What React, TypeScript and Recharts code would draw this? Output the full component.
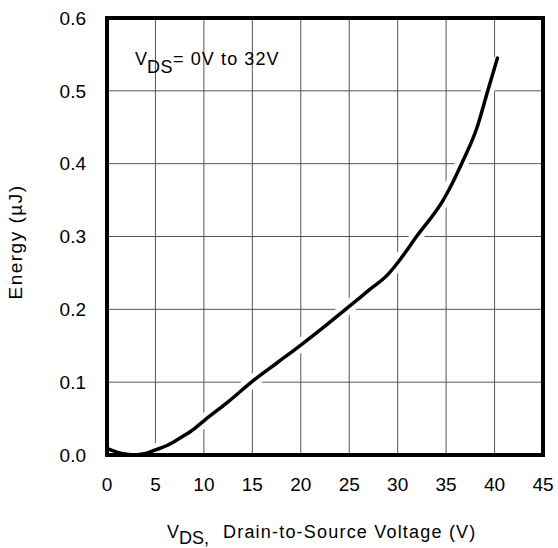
import { LineChart, Line, XAxis, YAxis, CartesianGrid, ReferenceArea } from 'recharts'

// drain-source voltage (V) vs energy (uJ)
const vds = [0, 1, 2, 2.7, 4, 5, 6, 7, 8, 9, 10, 12.5, 15, 17.5, 20, 22.5, 25, 27, 29, 30, 32, 34.7, 35, 36.6, 38.2, 39.3, 40.3]
const energy = [0.009, 0.004, 0.001, 0, 0.002, 0.007, 0.012, 0.019, 0.027, 0.036, 0.047, 0.073, 0.101, 0.126, 0.151, 0.177, 0.204, 0.226, 0.248, 0.264, 0.301, 0.35, 0.357, 0.4, 0.45, 0.5, 0.545]

const xTicks = [0, 5, 10, 15, 20, 25, 30, 35, 40, 45]
const yTicks = [0, 0.1, 0.2, 0.3, 0.4, 0.5, 0.6]

const FONT = 'Liberation Sans, Arial, Helvetica, sans-serif'

export default function App() {
  // "gap" is the same curve, drawn wide and white underneath to break the grid around it
  const data = vds.map((v, i) => ({ v, e: energy[i], gap: energy[i] }))

  return (
    <div style={{ position: 'absolute', left: 0, top: 0, width: 558, height: 548 }}>
      <LineChart width={558} height={548} data={data} margin={{ top: 18, right: 15, left: 0, bottom: 0 }}>
        <CartesianGrid stroke="#555" strokeWidth={1} />
        <XAxis
          dataKey="v"
          type="number"
          domain={[0, 45]}
          ticks={xTicks}
          height={93}
          stroke="#000"
          strokeWidth={4}
          tickLine={false}
          tickSize={6}
          tickMargin={17}
          tick={{ fill: '#000', fontSize: 19, fontFamily: FONT, stroke: 'none' }}
        />
        <YAxis
          type="number"
          domain={[0, 0.6]}
          ticks={yTicks}
          width={107}
          stroke="#000"
          strokeWidth={4}
          tickLine={false}
          tickSize={6}
          tickMargin={15}
          tickFormatter={(t: number) => t.toFixed(1)}
          tick={{ fill: '#000', fontSize: 19, fontFamily: FONT, stroke: 'none' }}
        />
        <ReferenceArea x1={0} x2={45} y1={0} y2={0.6} fill="none" stroke="#000" strokeWidth={4} />
        <Line dataKey="gap" type="monotone" stroke="#fff" strokeWidth={13} dot={false} activeDot={false} isAnimationActive={false} />
        <Line dataKey="e" type="monotone" stroke="#000" strokeWidth={3.5} dot={false} strokeLinecap="round" isAnimationActive={false} />
      </LineChart>

      <svg width={558} height={548} style={{ position: 'absolute', left: 0, top: 0, pointerEvents: 'none' }}>
        <text x={135} y={65} fontSize={18} fill="#000" fontFamily={FONT}>
          V<tspan dy={8} letterSpacing={0.5}>DS</tspan>
          <tspan dy={-8} letterSpacing={1.1}>= 0V to 32V</tspan>
        </text>
        <text x={22} y={242} fontSize={19} fill="#000" fontFamily={FONT} textAnchor="middle" letterSpacing={1.5} transform="rotate(-90 22 242)">
          Energy (µJ)
        </text>
        <text x={167} y={538} fontSize={18} fill="#000" fontFamily={FONT}>
          V<tspan dy={6}>DS,</tspan>
          <tspan x={223} dy={-6} letterSpacing={1.2}>Drain-to-Source Voltage (V)</tspan>
        </text>
      </svg>
    </div>
  )
}
